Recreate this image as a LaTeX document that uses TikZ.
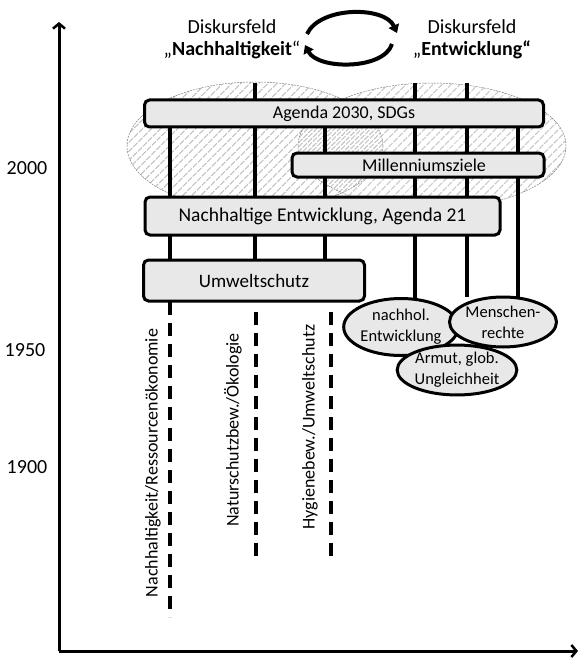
\documentclass[tikz,border=0pt]{standalone}
\usepackage{fontspec}
\setmainfont{Carlito}
\usetikzlibrary{arrows.meta,shapes.geometric,patterns.meta}
\definecolor{boxfill}{RGB}{232,232,232}
\definecolor{hatch}{RGB}{195,195,195}
\pgfdeclarelayer{back}
\pgfdeclarelayer{bg}
\pgfsetlayers{back,bg,main}
\tikzset{
  bx/.style={draw=black, line width=3pt, fill=boxfill, rounded corners=5pt, inner sep=0pt},
  oval/.style={ellipse, draw=black, line width=3pt, fill=boxfill, inner sep=0pt, align=center, font=\fontsize{16.5}{21}\selectfont},
  vl/.style={line width=3.5pt},
  dl/.style={line width=3.5pt, dash pattern=on 13pt off 8pt},
  field/.style={draw=gray, line width=0.5pt, dash pattern=on 2pt off 1pt,
    pattern={Lines[angle=45,distance=6.5pt,line width=1.3pt]}, pattern color=hatch},
  axis/.style={line width=3pt, -{Straight Barb[length=5pt,width=12pt,line width=2.5pt]}},
  cyc/.style={line width=4pt, -{Triangle[length=8pt,width=11pt]}},
  rot/.style={rotate=90, font=\fontsize{18}{20}\selectfont},
  yr/.style={font=\fontsize{20}{22}\selectfont},
  head/.style={align=center, font=\fontsize{20}{22}\selectfont}
}
\begin{document}
\begin{tikzpicture}[x=1pt,y=-1pt]
\useasboundingbox (0,0) rectangle (579,658);

% axes
\coordinate (O) at (59,651);
\coordinate (Ytop) at (59,22);
\coordinate (Xend) at (578,651);
\draw[axis] (O) -- (Ytop);
\draw[axis] (O) -- (Xend);

% years
\node[yr] (y2000) at (27,168) {2000};
\node[yr] (y1950) at (25,350) {1950};
\node[yr] (y1900) at (27,467) {1900};

% header
\node[head] (dn) at (232,39) {Diskursfeld\\„\textbf{Nachhaltigkeit}“};
\node[head] (de) at (472,39) {Diskursfeld\\„\textbf{Entwicklung“}};
\coordinate (a1s) at (307,34);
\coordinate (a1e) at (397,33);
\coordinate (a2s) at (392,44);
\coordinate (a2e) at (305,45);
\draw[cyc] (a1s) .. controls (320,6) and (385,6) .. (a1e);
\draw[cyc] (a2s) .. controls (384,70) and (318,70) .. (a2e);

% boxes
\node[bx, minimum width=399pt, minimum height=27pt, font=\fontsize{18}{20}\selectfont] (agenda) at (344,113.5) {Agenda 2030, SDGs};
\node[bx, minimum width=252pt, minimum height=24pt, font=\fontsize{18}{20}\selectfont] (mill) at (418,165) {\hspace{12pt}Millenniumsziele};
\node[bx, minimum width=355pt, minimum height=38pt, font=\fontsize{19.5}{22}\selectfont] (na21) at (322.5,216) {Nachhaltige Entwicklung, Agenda 21};
\node[bx, minimum width=221pt, minimum height=41pt, font=\fontsize{19}{22}\selectfont] (umw) at (254,280.5) {Umweltschutz};

% bottom ovals
\node[oval, minimum width=92pt, minimum height=57pt] (nach) at (401,327) {nachhol.\\Entwicklung};
\node[oval, minimum width=107pt, minimum height=50pt] (mensch) at (503,322) {Menschen-\\rechte};
\node[oval, minimum width=105pt, minimum height=46pt] (armut) at (457,370) {Armut, glob.\\Ungleichheit};

% rotated labels
\node[rot] (l1) at (153,463) {Nachhaltigkeit/Ressourcenökonomie};
\node[rot] (l2) at (233,430) {Naturschutzbew./Ökologie};
\node[rot] (l3) at (310,427) {Hygienebew./Umweltschutz};

% hatched discourse fields
\begin{pgfonlayer}{back}
\path[field] (255,146) ellipse [x radius=128pt, y radius=64pt];
\path[field] (432,146) ellipse [x radius=134pt, y radius=63pt];
\end{pgfonlayer}

% vertical lines
\begin{pgfonlayer}{bg}
\coordinate (v1) at (170,127);
\coordinate (v2) at (255,83);
\coordinate (v3) at (325,127);
\coordinate (v4) at (415,83);
\coordinate (v5) at (467,83);
\coordinate (v6) at (518,127);
\coordinate (v5e) at (467,297);
\draw[vl] (v1) -- (v1 |- umw.north);
\draw[vl] (v2) -- (v2 |- umw.north);
\draw[vl] (v3) -- (v3 |- umw.north);
\draw[vl] (v4) -- (v4 |- nach.center);
\draw[vl] (v5) -- (v5e);
\draw[vl] (v6) -- (v6 |- mensch.center);
% dashed
\coordinate (d1s) at (170,302);
\coordinate (d1e) at (170,617);
\coordinate (d2s) at (256,312);
\coordinate (d2e) at (256,557);
\coordinate (d3s) at (331,312);
\coordinate (d3e) at (331,557);
\draw[dl] (d1s) -- (d1e);
\draw[dl] (d2s) -- (d2e);
\draw[dl] (d3s) -- (d3e);
\end{pgfonlayer}
\end{tikzpicture}
\end{document}
